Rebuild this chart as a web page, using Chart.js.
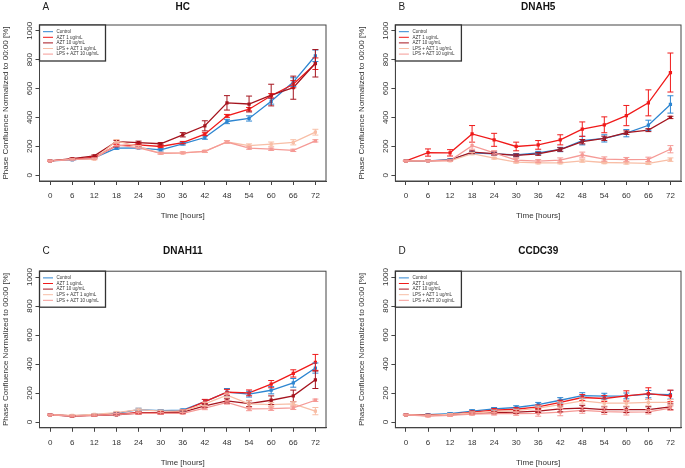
<!DOCTYPE html>
<html><head><meta charset="utf-8">
<script src="https://cdn.jsdelivr.net/npm/chart.js@4.4.1/dist/chart.umd.min.js"></script>
<style>
html,body{margin:0;padding:0;background:#fff;overflow:hidden;width:685px;height:468px}
.p{position:absolute}
</style></head><body>
<div class="p" style="left:0;top:0;width:342px;height:234px"><canvas id="cA"></canvas></div>
<div class="p" style="left:342px;top:0;width:343px;height:234px"><canvas id="cB"></canvas></div>
<div class="p" style="left:0;top:234px;width:342px;height:234px"><canvas id="cC"></canvas></div>
<div class="p" style="left:342px;top:234px;width:343px;height:234px"><canvas id="cD"></canvas></div>
<script>
// ---------- data ----------
const hours = [0, 6, 12, 18, 24, 30, 36, 42, 48, 54, 60, 66, 72];
const hourLabels = ['0', '6', '12', '18', '24', '30', '36', '42', '48', '54', '60', '66', '72'];
const yTickValues = [0, 200, 400, 600, 800, 1000];
const yTickLabels = ['0', '200', '400', '600', '800', '1000'];
const seriesNames = ['Control', 'AZT 1 ug/mL', 'AZT 10 ug/mL', 'LPS + AZT 1 ug/mL', 'LPS + AZT 10 ug/mL'];
const seriesColors = ['#2e86d1', '#f01a1a', '#a5141e', '#f8bea6', '#f59a96'];
const panelLetters = ['A', 'B', 'C', 'D'];
const panelTitles = ['HC', 'DNAH5', 'DNAH11', 'CCDC39'];
const xTitle = 'Time [hours]';
const yTitle = 'Phase Confluence Normalized to 00:00 [%]';

// Panel A: HC
const hcControl    = [100, 106, 120, 187, 189, 176, 217, 261, 372, 393, 512, 645, 827];
const hcControlErr = [3, 4, 5, 8, 6, 8, 8, 12, 15, 18, 20, 30, 40];
const hcAzt1       = [100, 112, 124, 205, 210, 199, 226, 284, 411, 457, 550, 630, 772];
const hcAzt1Err    = [3, 4, 5, 8, 8, 8, 8, 10, 10, 12, 15, 25, 40];
const hcAzt10      = [100, 115, 134, 233, 226, 218, 280, 342, 501, 493, 555, 606, 775];
const hcAzt10Err   = [3, 4, 6, 8, 10, 8, 15, 35, 50, 55, 75, 80, 95];
const hcLps1       = [100, 110, 111, 237, 198, 152, 155, 165, 230, 205, 215, 228, 298];
const hcLps1Err    = [3, 4, 5, 10, 8, 6, 6, 8, 10, 12, 15, 18, 20];
const hcLps10      = [100, 108, 115, 210, 190, 152, 155, 165, 230, 188, 180, 172, 238];
const hcLps10Err   = [3, 4, 5, 8, 6, 6, 6, 6, 8, 8, 8, 8, 8];

// Panel B: DNAH5
const dnah5Control    = [100, 100, 108, 155, 148, 140, 155, 178, 240, 255, 291, 346, 490];
const dnah5ControlErr = [3, 4, 5, 10, 10, 10, 10, 15, 30, 25, 25, 35, 60];
const dnah5Azt1       = [100, 157, 155, 286, 245, 199, 210, 245, 319, 349, 413, 501, 711];
const dnah5Azt1Err    = [3, 25, 22, 58, 45, 30, 30, 35, 50, 55, 70, 90, 135];
const dnah5Azt10      = [100, 100, 105, 160, 150, 137, 148, 178, 232, 255, 295, 312, 400];
const dnah5Azt10Err   = [3, 4, 5, 8, 10, 10, 10, 12, 15, 15, 12, 10, 8];
const dnah5Lps1       = [100, 100, 100, 150, 118, 90, 85, 85, 100, 88, 85, 82, 108];
const dnah5Lps1Err    = [3, 4, 5, 8, 6, 6, 6, 6, 10, 8, 8, 8, 12];
const dnah5Lps10      = [100, 100, 102, 205, 155, 105, 98, 105, 140, 112, 108, 110, 180];
const dnah5Lps10Err   = [3, 4, 5, 25, 15, 12, 10, 15, 20, 15, 15, 15, 25];

// Panel C: DNAH11
const dnah11Control    = [50, 42, 50, 60, 85, 78, 82, 140, 206, 192, 219, 270, 372];
const dnah11ControlErr = [3, 4, 5, 8, 10, 8, 8, 15, 25, 20, 25, 30, 35];
const dnah11Azt1       = [50, 42, 48, 55, 65, 65, 75, 141, 205, 201, 261, 335, 411];
const dnah11Azt1Err    = [3, 4, 5, 6, 8, 8, 8, 15, 20, 20, 25, 25, 55];
const dnah11Azt10      = [50, 40, 45, 50, 62, 62, 68, 111, 145, 127, 150, 180, 291];
const dnah11Azt10Err   = [3, 4, 5, 6, 8, 8, 8, 12, 15, 20, 30, 40, 60];
const dnah11Lps1       = [50, 45, 52, 65, 85, 75, 75, 125, 185, 125, 120, 125, 75];
const dnah11Lps1Err    = [3, 4, 5, 8, 10, 8, 8, 12, 15, 25, 15, 15, 25];
const dnah11Lps10      = [50, 40, 45, 52, 60, 60, 60, 95, 135, 90, 92, 98, 150];
const dnah11Lps10Err   = [3, 4, 5, 6, 6, 6, 6, 10, 12, 12, 12, 12, 8];

// Panel D: CCDC39
const ccdc39Control    = [50, 50, 58, 75, 90, 100, 120, 150, 182, 178, 180, 192, 188];
const ccdc39ControlErr = [3, 5, 6, 10, 10, 12, 15, 18, 20, 20, 20, 25, 30];
const ccdc39Azt1       = [50, 48, 52, 68, 82, 88, 105, 135, 169, 162, 180, 196, 180];
const ccdc39Azt1Err    = [3, 5, 6, 8, 10, 10, 12, 15, 20, 20, 35, 40, 40];
const ccdc39Azt10      = [50, 45, 50, 60, 65, 68, 75, 90, 95, 85, 85, 85, 105];
const ccdc39Azt10Err   = [3, 5, 6, 8, 8, 8, 10, 20, 20, 20, 20, 20, 20];
const ccdc39Lps1       = [50, 45, 52, 62, 72, 78, 95, 120, 145, 130, 130, 135, 135];
const ccdc39Lps1Err    = [3, 5, 6, 8, 10, 10, 15, 18, 20, 20, 20, 20, 20];
const ccdc39Lps10      = [50, 40, 45, 55, 58, 58, 60, 68, 80, 72, 68, 70, 95];
const ccdc39Lps10Err   = [3, 5, 6, 8, 10, 12, 20, 25, 20, 20, 20, 15, 15];

const panelValues = [
  [hcControl, hcAzt1, hcAzt10, hcLps1, hcLps10],
  [dnah5Control, dnah5Azt1, dnah5Azt10, dnah5Lps1, dnah5Lps10],
  [dnah11Control, dnah11Azt1, dnah11Azt10, dnah11Lps1, dnah11Lps10],
  [ccdc39Control, ccdc39Azt1, ccdc39Azt10, ccdc39Lps1, ccdc39Lps10]
];
const panelErrors = [
  [hcControlErr, hcAzt1Err, hcAzt10Err, hcLps1Err, hcLps10Err],
  [dnah5ControlErr, dnah5Azt1Err, dnah5Azt10Err, dnah5Lps1Err, dnah5Lps10Err],
  [dnah11ControlErr, dnah11Azt1Err, dnah11Azt10Err, dnah11Lps1Err, dnah11Lps10Err],
  [ccdc39ControlErr, ccdc39Azt1Err, ccdc39Azt10Err, ccdc39Lps1Err, ccdc39Lps10Err]
];

// ---------- rendering ----------
const FONT = "'Liberation Sans', Arial, Helvetica, sans-serif";
Chart.defaults.font.family = FONT;
Chart.defaults.color = '#333';

const errorBarPlugin = {
  id: 'errorBars',
  afterDatasetsDraw(chart) {
    const ctx = chart.ctx, xs = chart.scales.x, ys = chart.scales.y;
    ctx.save();
    chart.data.datasets.forEach((ds) => {
      ctx.strokeStyle = ds.borderColor;
      ctx.lineWidth = 1;
      ds.data.forEach((pt, i) => {
        const e = ds.errors[i];
        const x = xs.getPixelForValue(pt.x);
        const y1 = ys.getPixelForValue(pt.y - e);
        const y2 = ys.getPixelForValue(pt.y + e);
        ctx.beginPath();
        ctx.moveTo(x, y1); ctx.lineTo(x, y2);
        ctx.moveTo(x - 3, y1); ctx.lineTo(x + 3, y1);
        ctx.moveTo(x - 3, y2); ctx.lineTo(x + 3, y2);
        ctx.stroke();
      });
    });
    ctx.restore();
  }
};

const frameLegendPlugin = {
  id: 'frameLegend',
  afterDraw(chart, args, opts) {
    const ctx = chart.ctx, a = chart.chartArea;
    ctx.save();
    // plot frame
    ctx.strokeStyle = '#444';
    ctx.lineWidth = 1;
    ctx.strokeRect(a.left, a.top, a.right - a.left, a.bottom - a.top);
    // legend box
    const lw = 66, lh = 36;
    ctx.fillStyle = '#fff';
    ctx.fillRect(a.left, a.top, lw, lh);
    ctx.strokeStyle = '#333';
    ctx.lineWidth = 1.3;
    ctx.strokeRect(a.left, a.top, lw, lh);
    ctx.font = '4.5px ' + FONT;
    ctx.textBaseline = 'middle';
    ctx.textAlign = 'left';
    chart.data.datasets.forEach((ds, i) => {
      const y = a.top + 6.7 + i * 5.6;
      ctx.strokeStyle = ds.borderColor;
      ctx.lineWidth = 1;
      ctx.beginPath();
      ctx.moveTo(a.left + 3.5, y); ctx.lineTo(a.left + 13.5, y);
      ctx.stroke();
      ctx.fillStyle = '#333';
      ctx.fillText(ds.label, a.left + 17, y);
    });
    // panel letter
    ctx.font = '10px ' + FONT;
    ctx.fillStyle = '#222';
    ctx.textBaseline = 'middle';
    ctx.fillText(opts.letter, a.left + 3, opts.letterY);
    ctx.restore();
  }
};

function makePanel(canvasId, p, lay) {
  const datasets = seriesNames.map((name, s) => ({
    label: name,
    data: hours.map((h, i) => ({ x: h, y: panelValues[p][s][i] })),
    errors: panelErrors[p][s],
    borderColor: seriesColors[s],
    backgroundColor: seriesColors[s],
    borderWidth: 1.3,
    pointStyle: 'rect',
    pointRadius: 2.3,
    pointBorderWidth: 0,
    tension: 0,
    order: seriesNames.length - s
  }));
  return new Chart(document.getElementById(canvasId), {
    type: 'line',
    data: { datasets },
    plugins: [errorBarPlugin, frameLegendPlugin],
    options: {
      responsive: true,
      maintainAspectRatio: false,
      animation: false,
      events: [],
      layout: { padding: { left: lay.padL, right: lay.padR, top: 0, bottom: lay.padB } },
      plugins: {
        legend: { display: false },
        tooltip: { enabled: false },
        frameLegend: { letter: panelLetters[p], letterY: lay.titleY },
        title: {
          display: true,
          text: panelTitles[p],
          fullSize: false,
          align: 'center',
          color: '#111',
          font: { size: 10, weight: 'bold', lineHeight: 1.2 },
          padding: { top: lay.titleY - 6, bottom: lay.chartTop - lay.titleY - 6 }
        }
      },
      scales: {
        x: {
          type: 'linear',
          min: -2.88, max: 74.88,
          afterBuildTicks: (sc) => { sc.ticks = hours.map(v => ({ value: v })); },
          afterFit: (sc) => { sc.height = 39.8; },
          grid: { display: true, drawOnChartArea: false, drawTicks: true, tickLength: 4, color: '#444' },
          border: { display: true, color: '#444', width: 1 },
          ticks: { font: { size: 8 }, color: '#333', padding: 6, maxRotation: 0, autoSkip: false,
                   callback: (v, i) => hourLabels[i] },
          title: { display: true, text: xTitle, font: { size: 8 }, color: '#333', padding: { top: 0, bottom: 0 } }
        },
        y: {
          type: 'linear',
          min: -40, max: 1040,
          afterBuildTicks: (sc) => { sc.ticks = yTickValues.map(v => ({ value: v })); },
          afterFit: (sc) => { sc.width = 39.5; },
          grid: { display: true, drawOnChartArea: false, drawTicks: true, tickLength: 4, color: '#444' },
          border: { display: true, color: '#444', width: 1 },
          ticks: { font: { size: 8 }, color: '#333', padding: -3.4, minRotation: 90, maxRotation: 90, crossAlign: 'center', autoSkip: false,
                   callback: (v, i) => yTickLabels[i] },
          title: { display: true, text: yTitle, font: { size: 8 }, color: '#333', padding: { top: 0.7, bottom: 0 } }
        }
      }
    }
  });
}

makePanel('cA', 0, { padL: 0,    padR: 16,  padB: 13.2, titleY: 7,  chartTop: 25 });
makePanel('cB', 1, { padL: 13.9, padR: 2.4, padB: 13.2, titleY: 7,  chartTop: 25 });
makePanel('cC', 2, { padL: 0,    padR: 16,  padB: 0.4,  titleY: 17, chartTop: 37.2 });
makePanel('cD', 3, { padL: 13.9, padR: 2.4, padB: 0.4,  titleY: 17, chartTop: 37.2 });
</script>
</body></html>
